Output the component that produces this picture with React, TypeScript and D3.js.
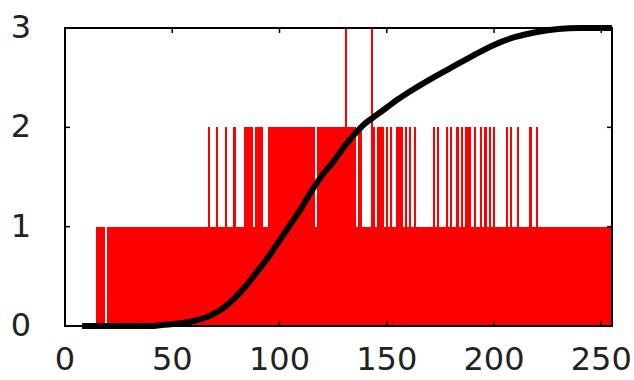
import React from "react";
import * as d3 from "d3";

// histogram counts for grey levels 0..255 (16 values per row)
const countRows = [
  "0000000000000001",
  "1110111111111111",
  "1111111111111111",
  "1111111111111111",
  "1112111211121112",
  "1111222212222112",
  "2222222222222222",
  "2222212222222222",
  "2223222212211113",
  "2122212121122212",
  "1212111111112121",
  "1121211212122212",
  "1121212121111121",
  "2112111112112111",
  "1111111111111111",
  "1111111111111111",
];
const counts = countRows.join("").split("").map(Number);

// cumulative curve (scaled to 0..3)
const cumX = [8, 20, 30, 40, 45, 55, 60, 65, 70, 75, 80, 85, 90, 95, 100, 105, 110, 115, 120, 125, 130, 135, 140, 145, 150, 155, 160, 170, 180, 190, 200, 210, 220, 230, 240, 255];
const cumY = [0, 0, 0, 0, 0.01, 0.03, 0.05, 0.08, 0.13, 0.2, 0.3, 0.42, 0.56, 0.7, 0.86, 1.02, 1.18, 1.36, 1.52, 1.65, 1.8, 1.93, 2.04, 2.12, 2.2, 2.28, 2.35, 2.48, 2.6, 2.72, 2.83, 2.91, 2.96, 2.99, 3.0, 3.0];

const xTicks = [0, 50, 100, 150, 200, 250];
const yTicks = [0, 1, 2, 3];

const width = 634;
const height = 380;
const margin = { top: 28, right: 22, bottom: 54, left: 65 };

export default function App() {
  const ref = React.useRef<SVGSVGElement>(null);

  React.useEffect(() => {
    const svg = d3.select(ref.current);
    svg.selectAll("*").remove();

    const x = d3.scaleLinear().domain([0, 255]).range([margin.left, width - margin.right]);
    const y = d3.scaleLinear().domain([0, 3]).range([height - margin.bottom, margin.top]);

    svg
      .append("clipPath")
      .attr("id", "plot")
      .append("rect")
      .attr("x", margin.left)
      .attr("y", margin.top)
      .attr("width", width - margin.left - margin.right)
      .attr("height", height - margin.top - margin.bottom);

    const bins = counts.map((c, i) => ({ v: i, c })).filter((d) => d.c > 0);

    svg
      .append("g")
      .attr("clip-path", "url(#plot)")
      .selectAll("rect")
      .data(bins)
      .join("rect")
      .attr("x", (d) => x(d.v - 0.5))
      .attr("width", (d) => x(d.v + 0.5) - x(d.v - 0.5))
      .attr("y", (d) => y(d.c))
      .attr("height", (d) => y(0) - y(d.c))
      .attr("fill", "#ff0000")
      .attr("shape-rendering", "crispEdges");

    // frame
    svg
      .append("rect")
      .attr("x", margin.left)
      .attr("y", margin.top)
      .attr("width", width - margin.left - margin.right)
      .attr("height", height - margin.top - margin.bottom)
      .attr("fill", "none")
      .attr("stroke", "#000")
      .attr("stroke-width", 2);

    const tl = 5;
    const tickG = svg.append("g").attr("stroke", "#000").attr("stroke-width", 1.5);
    xTicks.forEach((t) => {
      tickG.append("line").attr("x1", x(t)).attr("x2", x(t)).attr("y1", y(3)).attr("y2", y(3) + tl);
      tickG.append("line").attr("x1", x(t)).attr("x2", x(t)).attr("y1", y(0)).attr("y2", y(0) - tl);
    });
    yTicks.forEach((t) => {
      tickG.append("line").attr("x1", x(0)).attr("x2", x(0) + tl).attr("y1", y(t)).attr("y2", y(t));
      tickG.append("line").attr("x1", x(255)).attr("x2", x(255) - tl).attr("y1", y(t)).attr("y2", y(t));
    });

    // labels
    const font = "DejaVu Sans, sans-serif";
    svg
      .append("g")
      .selectAll("text")
      .data(xTicks)
      .join("text")
      .attr("x", (d) => x(d))
      .attr("y", 370)
      .attr("text-anchor", "middle")
      .attr("font-family", font)
      .attr("font-size", 32)
      .attr("fill", "#222")
      .text((d) => d);

    svg
      .append("g")
      .selectAll("text")
      .data(yTicks)
      .join("text")
      .attr("x", 31)
      .attr("y", (d) => y(d) + 10)
      .attr("text-anchor", "end")
      .attr("font-family", font)
      .attr("font-size", 32)
      .attr("fill", "#222")
      .text((d) => d);

    // cumulative curve
    const line = d3
      .line<number>()
      .x((d, i) => x(cumX[i]))
      .y((d) => y(d))
      .curve(d3.curveMonotoneX);

    svg
      .append("path")
      .datum(cumY)
      .attr("fill", "none")
      .attr("stroke", "#000")
      .attr("stroke-width", 6)
      .attr("stroke-linejoin", "round")
      .attr("d", line);
  }, []);

  return (
    <svg
      ref={ref}
      width={width}
      height={height}
      style={{ position: "absolute", left: 0, top: 0, background: "#fff" }}
    />
  );
}
